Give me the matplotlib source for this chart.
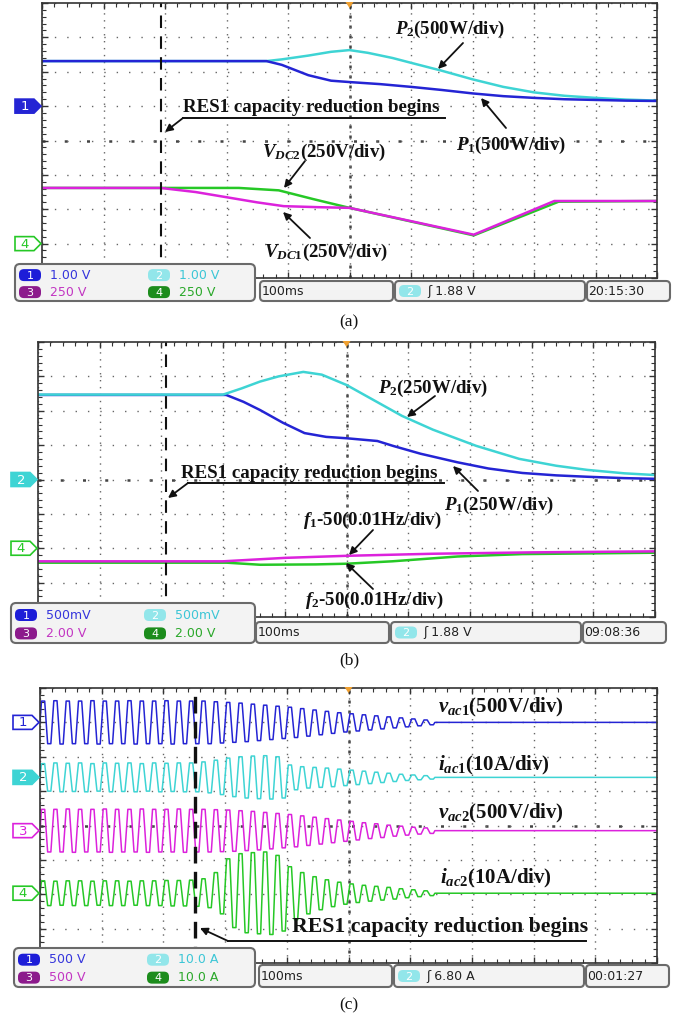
import numpy as np
import matplotlib
matplotlib.use("Agg")
import matplotlib.pyplot as plt
from matplotlib.patches import FancyBboxPatch, Polygon

# ---------------- data (screen divisions: x 0..10, 100 ms/div; y -4..4) ----------------
# (a) P1 / P2 (500 W/div) and VDC1 / VDC2 (250 V/div)
a_p1_t = [0, 3.65, 3.9, 4.33, 4.7, 5.0, 5.5, 6.0, 6.5, 7.0, 7.5, 8.0, 8.5, 9.0, 9.5, 10]
a_p1 = [2.31, 2.31, 2.2, 1.9, 1.74, 1.70, 1.64, 1.56, 1.47, 1.37, 1.29, 1.24, 1.2, 1.18, 1.16, 1.15]
a_p2_t = [0, 3.65, 3.9, 4.33, 4.7, 5.0, 5.3, 5.7, 6.0, 6.5, 7.0, 7.5, 8.0, 8.5, 9.0, 9.5, 10]
a_p2 = [2.31, 2.31, 2.36, 2.47, 2.58, 2.63, 2.55, 2.4, 2.26, 2.03, 1.78, 1.56, 1.40, 1.30, 1.24, 1.19, 1.16]
a_vdc1_t = [0, 1.93, 2.5, 3.0, 3.5, 3.93, 4.5, 5.0, 7.02, 8.33, 10]
a_vdc1 = [-1.38, -1.38, -1.5, -1.65, -1.8, -1.91, -1.94, -1.96, -2.74, -1.76, -1.76]
a_vdc2_t = [0, 3.2, 3.85, 4.4, 5.0, 7.02, 8.4, 10]
a_vdc2 = [-1.38, -1.38, -1.45, -1.7, -1.96, -2.76, -1.78, -1.76]

# (b) P1 / P2 (250 W/div) and f1-50 / f2-50 (0.01 Hz/div)
b_p1_t = [0, 3.05, 3.33, 3.6, 3.97, 4.32, 4.67, 5.0, 5.5, 5.75, 6.2, 6.8, 7.3, 7.85, 8.4, 8.9, 9.5, 10]
b_p1 = [2.46, 2.46, 2.26, 2.02, 1.65, 1.35, 1.24, 1.2, 1.12, 0.98, 0.75, 0.5, 0.32, 0.19, 0.12, 0.08, 0.04, 0.02]
b_p2_t = [0, 3.0, 3.3, 3.6, 3.9, 4.3, 4.6, 5.0, 5.4, 5.9, 6.4, 7.1, 7.8, 8.4, 8.9, 9.5, 10]
b_p2 = [2.47, 2.47, 2.65, 2.85, 3.0, 3.13, 3.05, 2.75, 2.35, 1.85, 1.45, 0.98, 0.6, 0.4, 0.28, 0.18, 0.13]
b_f1_t = [0, 3.0, 3.5, 4.0, 5.0, 6.4, 8.0, 10]
b_f1 = [-2.38, -2.38, -2.33, -2.28, -2.22, -2.16, -2.12, -2.09]
b_f2_t = [0, 3.06, 3.6, 4.5, 5.0, 5.74, 6.8, 7.85, 10]
b_f2 = [-2.42, -2.42, -2.48, -2.47, -2.45, -2.38, -2.24, -2.17, -2.13]

# (c) peak amplitude of each 20 ms cycle (div), then trace settles at its level
c_vac1 = [0.62, 0.63, 0.62, 0.62, 0.63, 0.62, 0.62, 0.63, 0.62, 0.62, 0.63, 0.62, 0.62,
          0.62, 0.6, 0.58, 0.56, 0.53, 0.5, 0.47, 0.44, 0.4, 0.36, 0.32, 0.28, 0.25,
          0.22, 0.19, 0.16, 0.13, 0.1, 0.07]
c_iac1 = [0.40, 0.42, 0.41, 0.42, 0.40, 0.42, 0.41, 0.42, 0.40, 0.42, 0.41, 0.42, 0.42,
          0.45, 0.5, 0.56, 0.6, 0.62, 0.63, 0.6, 0.36, 0.31, 0.29, 0.27, 0.24, 0.21,
          0.18, 0.15, 0.12, 0.09, 0.07, 0.05]
c_vac2 = [0.62, 0.62, 0.63, 0.62, 0.62, 0.63, 0.62, 0.62, 0.63, 0.62, 0.62, 0.63, 0.62,
          0.62, 0.61, 0.6, 0.58, 0.56, 0.53, 0.5, 0.47, 0.43, 0.39, 0.35, 0.31, 0.27,
          0.23, 0.2, 0.16, 0.13, 0.1, 0.08]
c_iac2 = [0.36, 0.35, 0.36, 0.36, 0.35, 0.36, 0.36, 0.35, 0.36, 0.36, 0.37, 0.37, 0.38,
          0.42, 0.6, 1.0, 1.15, 1.18, 1.2, 1.1, 0.77, 0.6, 0.48, 0.39, 0.32, 0.27,
          0.23, 0.2, 0.17, 0.13, 0.1, 0.07]
c_levels = {"vac1": 3.0, "iac1": 1.4, "vac2": -0.15, "iac2": -1.97}
cycle_div = 0.2   # 20 ms at 100 ms/div

event_div = {"a": 1.93, "b": 2.08, "c": 2.51}

status_a = [("1", "1.00 V"), ("2", "1.00 V"), ("3", "250 V"), ("4", "250 V"), "1.88 V", "20:15:30"]
status_b = [("1", "500mV"), ("2", "500mV"), ("3", "2.00 V"), ("4", "2.00 V"), "1.88 V", "09:08:36"]
status_c = [("1", "500 V"), ("2", "10.0 A"), ("3", "500 V"), ("4", "10.0 A"), "6.80 A", "00:01:27"]

# ---------------- styling ----------------
W, H = 682, 1021
BLUE, CYAN, MAG, GREEN = "#2424d4", "#3ed4d4", "#dc22dc", "#26c826"
BADGE = {"1": "#1d1dd8", "2": "#92e6ea", "3": "#8c1a8c", "4": "#1c8c1c"}
TXTC = {"1": "#3535dc", "2": "#3cc6d6", "3": "#c236c2", "4": "#2aa82a"}

plt.rcParams["mathtext.fontset"] = "custom"
plt.rcParams["mathtext.rm"] = "Liberation Serif:bold"
plt.rcParams["mathtext.it"] = "Liberation Serif:italic:bold"
plt.rcParams["mathtext.bf"] = "Liberation Serif:bold"
SERIF = dict(family="Liberation Serif", weight="bold", color="#111111")
NARROW = ["Liberation Sans Narrow", "DejaVu Sans"]
LAB = 13.6

fig = plt.figure(figsize=(W / 100, H / 100), dpi=100)
fig.patch.set_facecolor("white")

ov = fig.add_axes([0, 0, 1, 1])
ov.set_xlim(0, W)
ov.set_ylim(H, 0)
ov.axis("off")
ov.set_zorder(10)


def screen(left, top, right, bottom):
    ax = fig.add_axes([left / W, 1 - bottom / H, (right - left) / W, (bottom - top) / H])
    ax.set_xlim(0, 10)
    ax.set_ylim(-4, 4)
    ax.set_xticks(range(11))
    ax.set_yticks(range(-4, 5))
    ax.set_xticks(np.arange(0, 10.01, 0.2), minor=True)
    ax.set_yticks(np.arange(-4, 4.01, 0.2), minor=True)
    ax.tick_params(which="both", direction="in", top=True, right=True,
                   labelbottom=False, labelleft=False, color="#333333")
    ax.tick_params(which="major", length=4, width=1)
    ax.tick_params(which="minor", length=3, width=0.8)
    ax.xaxis.grid(True, color="#666666", ls=(0, (1, 4)), lw=1.0)
    ax.yaxis.grid(True, color="#666666", ls=(0, (1, 7.9)), lw=1.0)
    ax.axvline(5, color="#444444", ls=(0, (1.2, 2.8)), lw=1.8, zorder=1)
    ax.axhline(0, color="#444444", ls=(0, (1.2, 7.7)), lw=1.8, zorder=1)
    for s in ax.spines.values():
        s.set_color("#333333")
        s.set_linewidth(1.2)
    # trigger position marker
    cx = (left + right) / 2
    ov.add_patch(Polygon([(cx - 4, top - 1), (cx + 4, top - 1), (cx, top + 5)],
                         closed=True, fc="#f0a030", ec="none"))
    return ax


def ypix(top, bottom, level):
    return top + (4 - level) * (bottom - top) / 8


def chan_marker(x_right, yc, label, color, filled):
    pts = [(x_right - 26, yc - 7), (x_right - 7, yc - 7), (x_right, yc),
           (x_right - 7, yc + 7), (x_right - 26, yc + 7)]
    ov.add_patch(Polygon(pts, closed=True, fc=color if filled else "white",
                         ec=color, lw=1.2))
    ov.text(x_right - 16, yc + 0.5, label, ha="center", va="center", fontsize=9.5,
            color="white" if filled else color, family="DejaVu Sans")


def status_bar(x0, y_top, y_box, y_bot, info):
    ov.add_patch(FancyBboxPatch((x0, y_top), 255 - x0, y_bot - y_top,
                                boxstyle="round,pad=0,rounding_size=5",
                                fc="#f3f3f3", ec="#6a6a6a", lw=1.5))
    rows = [y_top + (y_bot - y_top) * 0.3, y_top + (y_bot - y_top) * 0.76]
    cols = [x0 + 4, x0 + 133]
    for k, (ch, txt) in enumerate(info[:4]):
        bx = cols[k % 2]
        by = rows[k // 2]
        ov.add_patch(FancyBboxPatch((bx, by - 6), 22, 12,
                                    boxstyle="round,pad=0,rounding_size=5",
                                    fc=BADGE[ch], ec="none"))
        ov.text(bx + 11, by + 0.5, ch, ha="center", va="center", fontsize=8,
                color="white", family="DejaVu Sans")
        ov.text(bx + 31, by, txt, ha="left", va="center", fontsize=9,
                color=TXTC[ch], family=NARROW)
    boxes = [(x0 + 245, 133), (x0 + 380, 190), (x0 + 572, 83)]
    for bx, bw in boxes:
        ov.add_patch(FancyBboxPatch((bx, y_box), bw, y_bot - y_box,
                                    boxstyle="round,pad=0,rounding_size=4",
                                    fc="#f3f3f3", ec="#6a6a6a", lw=1.5))
    ym = (y_box + y_bot) / 2
    ov.text(boxes[0][0] + 2, ym, "100ms", ha="left", va="center", fontsize=9,
            color="#222222", family=NARROW)
    tb = boxes[1][0]
    ov.add_patch(FancyBboxPatch((tb + 4, ym - 6), 22, 12,
                                boxstyle="round,pad=0,rounding_size=5",
                                fc=BADGE["2"], ec="none"))
    ov.text(tb + 15, ym + 0.5, "2", ha="center", va="center", fontsize=8,
            color="white", family="DejaVu Sans")
    ov.text(tb + 32, ym, "\u0283 " + info[4], ha="left", va="center", fontsize=9,
            color="#222222", family=NARROW)
    ov.text(boxes[2][0] + 1, ym, info[5], ha="left", va="center", fontsize=9,
            color="#222222", family=NARROW)


def label(x, y, s, size=LAB):
    ov.text(x, y, s, ha="left", va="center", fontsize=size, **SERIF)


def arrow(tail, tip):
    ov.annotate("", xy=tip, xytext=tail,
                arrowprops=dict(arrowstyle="-|>", color="#111111", lw=1.3,
                                mutation_scale=11, shrinkA=0, shrinkB=0))


def event_note(x_text, y_text, x_ul0, x_ul1, y_ul, tip, size=LAB):
    label(x_text, y_text, "RES1 capacity reduction begins", size)
    ov.plot([x_ul0, x_ul1], [y_ul, y_ul], color="#111111", lw=1.4)
    arrow((x_ul0, y_ul), tip)


def ac_trace(amps, level):
    amps = np.asarray(amps)
    t0 = np.arange(len(amps)) * cycle_div
    xs = np.column_stack([t0 + 0.12 * cycle_div, t0 + 0.38 * cycle_div,
                          t0 + 0.62 * cycle_div, t0 + 0.88 * cycle_div]).ravel()
    ys = np.column_stack([amps, amps, -amps, -amps]).ravel() + level
    xs = np.concatenate([[0], xs, [len(amps) * cycle_div, 10]])
    ys = np.concatenate([[level], ys, [level, level]])
    return xs, ys


def caption(y, s):
    ov.text(349, y, s, ha="center", va="center", fontsize=12.5,
            family="Liberation Serif", color="#111111")


# ---------------- (a) ----------------
A = (42, 3, 657, 278)
ax = screen(*A)
ax.plot(a_p2_t, a_p2, color=CYAN, lw=1.8)
ax.plot(a_p1_t, a_p1, color=BLUE, lw=1.8)
ax.plot(a_vdc2_t, a_vdc2, color=GREEN, lw=1.8)
ax.plot(a_vdc1_t, a_vdc1, color=MAG, lw=1.8)
ax.axvline(event_div["a"], color="#111111", ls=(0, (6, 4)), lw=1.5)
chan_marker(A[0] - 1, ypix(A[1], A[3], 1), "1", BLUE, True)
chan_marker(A[0] - 1, ypix(A[1], A[3], -3), "4", GREEN, False)
label(395, 29, r"$P_2$(500W/div)")
arrow((463, 43), (438, 69))
event_note(183, 108, 183, 445, 118, (165, 132))
label(456, 145, r"$P_1$(500W/div)")
arrow((506, 128), (481, 98))
label(262, 152, r"$V_{DC2}$(250V/div)")
arrow((305, 161), (284, 188))
label(264, 252, r"$V_{DC1}$(250V/div)")
arrow((310, 238), (283, 212))
status_bar(15, 264, 281, 301, status_a)
caption(322, "(a)")

# ---------------- (b) ----------------
B = (38, 342, 655, 617)
ax = screen(*B)
ax.plot(b_p1_t, b_p1, color=BLUE, lw=1.8)
ax.plot(b_p2_t, b_p2, color=CYAN, lw=1.8)
ax.plot(b_f2_t, b_f2, color=GREEN, lw=1.8)
ax.plot(b_f1_t, b_f1, color=MAG, lw=1.8)
ax.axvline(event_div["b"], color="#111111", ls=(0, (6, 4)), lw=1.5)
chan_marker(B[0] - 1, ypix(B[1], B[3], 0), "2", CYAN, True)
chan_marker(B[0] - 1, ypix(B[1], B[3], -2), "4", GREEN, False)
label(378, 388, r"$P_2$(250W/div)")
arrow((435, 396), (407, 417))
event_note(181, 473, 188, 444, 483, (168, 498))
label(444, 505, r"$P_1$(250W/div)")
arrow((478, 491), (453, 466))
label(303, 520, r"$f_1$-50(0.01Hz/div)")
arrow((373, 530), (349, 555))
label(305, 600, r"$f_2$-50(0.01Hz/div)")
arrow((373, 589), (346, 563))
status_bar(11, 603, 622, 643, status_b)
caption(660, "(b)")

# ---------------- (c) ----------------
C = (40, 688, 657, 963)
ax = screen(*C)
for amps, key, col in [(c_vac1, "vac1", BLUE), (c_iac1, "iac1", CYAN),
                       (c_vac2, "vac2", MAG), (c_iac2, "iac2", GREEN)]:
    xs, ys = ac_trace(amps, c_levels[key])
    ax.plot(xs, ys, color=col, lw=1.1)
ax.axvline(event_div["c"], color="#111111", ls=(0, (5, 2.5)), lw=2.4)
chan_marker(C[0] - 1, ypix(C[1], C[3], c_levels["vac1"]), "1", BLUE, False)
chan_marker(C[0] - 1, ypix(C[1], C[3], c_levels["iac1"]), "2", CYAN, True)
chan_marker(C[0] - 1, ypix(C[1], C[3], c_levels["vac2"]), "3", MAG, False)
chan_marker(C[0] - 1, ypix(C[1], C[3], c_levels["iac2"]), "4", GREEN, False)
label(438, 707, r"$v_{ac1}$(500V/div)", 15)
label(438, 765, r"$i_{ac1}$(10A/div)", 15)
label(438, 813, r"$v_{ac2}$(500V/div)", 15)
label(440, 878, r"$i_{ac2}$(10A/div)", 15)
event_note(292, 927, 228, 586, 941, (200, 928), 15.7)
status_bar(14, 948, 965, 987, status_c)
caption(1005, "(c)")

fig.savefig("out.png", dpi=100, facecolor="white")
